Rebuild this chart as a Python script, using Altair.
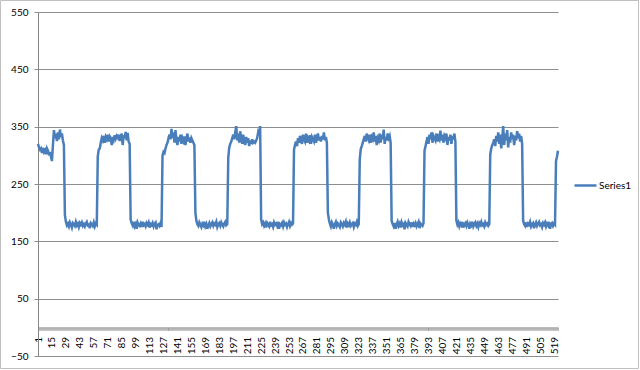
import altair as alt
import pandas as pd

# ---- data (one list per stretch of the series) ----
start_part = [320, 314, 310, 312, 304, 313, 306, 309, 302, 312, 308, 300, 306, 298, 290]
high_0 = [318, 344, 330, 338, 325, 340, 328, 345, 332, 338, 326, 318]
drop_1 = [196, 184]
low_1 = [178, 181, 176, 183, 179, 174, 182, 180, 177, 184, 178, 181, 175, 182, 179, 183,
         177, 180, 176, 181, 184, 178, 179, 173, 182, 180, 177, 183, 176, 181, 179]
rise_1 = [298, 310, 312, 322, 330]
high_1 = [326, 334, 322, 332, 328, 336, 324, 333, 330, 318, 332, 327, 335, 329, 334, 331,
          336, 325, 333, 338, 318, 335, 330, 341, 326, 339, 324, 320]
drop_2 = [188]
low_2 = [182, 178, 184, 176, 180, 172, 183, 179, 177, 181, 175, 184, 178, 180, 176, 182,
         179, 183, 174, 180, 178, 182, 176, 181, 183, 171, 179, 180, 177, 182, 175]
rise_2 = [300, 306, 304, 312, 318, 322, 330, 336, 328, 346]
high_2 = [330, 340, 322, 344, 326, 318, 332, 324, 336, 320, 330, 325, 333, 318, 328, 338,
          324, 331, 322, 330, 326, 322, 318]
drop_3 = [200, 186]
low_3 = [180, 177, 183, 179, 175, 181, 178, 184, 176, 180, 172, 178, 182, 176, 180, 183,
         177, 181, 179, 184, 175, 180, 182, 177, 183, 179, 176, 181, 184, 178, 180]
rise_3 = [296, 314, 320, 324]
high_3 = [330, 336, 328, 340, 351, 326, 338, 322, 342, 330, 320, 336, 324, 318, 332, 322,
          330, 316, 326, 320, 328, 322, 324, 322, 326, 330, 340, 335, 351]
drop_4 = [188]
low_4 = [180, 183, 177, 181, 174, 182, 179, 176, 184, 178, 180, 175, 183, 179, 181, 177,
         184, 172, 180, 178, 182, 176, 183, 179, 181, 175, 180, 184, 177, 182, 179, 181]
rise_4 = [310, 318]
high_4 = [324, 316, 330, 322, 334, 326, 320, 336, 328, 324, 338, 322, 330, 326, 335, 320,
          332, 328, 324, 336, 322, 330, 338, 326, 332, 324, 334, 328, 340, 326, 332, 322]
drop_5 = [200, 188]
low_5 = [181, 176, 183, 179, 172, 180, 184, 177, 181, 178, 175, 183, 180, 176, 182, 179,
         184, 174, 181, 178, 183, 177, 180, 182, 175, 181, 179, 184, 177, 180]
rise_5 = [293, 311, 316, 322]
high_5 = [328, 334, 324, 338, 330, 326, 336, 322, 332, 328, 340, 324, 334, 318, 330, 326,
          338, 322, 336, 328, 345, 320, 332, 326, 338, 330, 334, 322]
drop_6 = [186]
low_6 = [180, 176, 182, 172, 179, 184, 177, 181, 174, 183, 178, 180, 171, 182, 179, 176,
         184, 180, 177, 183, 175, 181, 178, 182, 176, 180, 184, 173, 181, 179, 177, 182]
rise_6 = [308, 316]
high_6 = [324, 332, 320, 336, 328, 340, 322, 334, 330, 326, 338, 324, 332, 328, 343, 326,
          336, 322, 334, 330, 338, 318, 332, 326, 336, 320, 334, 328, 338, 324]
drop_7 = [186]
low_7 = [179, 183, 176, 181, 178, 184, 174, 180, 182, 177, 183, 179, 172, 181, 178, 184,
         176, 180, 183, 177, 181, 175, 182, 179, 184, 178, 180, 176, 183, 179, 181, 177, 180]
rise_7 = [302, 312, 318]
high_7 = [322, 328, 316, 334, 324, 340, 320, 336, 312, 330, 351, 318, 338, 326, 344, 314,
          332, 322, 340, 328, 336, 318, 334, 326, 342, 330, 338, 324, 334, 320]
drop_8 = [186]
low_8 = [180, 177, 183, 175, 181, 179, 184, 176, 180, 182, 173, 179, 183, 177, 181, 184,
         178, 180, 175, 182, 179, 183, 176, 181, 178, 184, 172, 180, 182, 177, 181, 179]
end_part = [290, 298, 308]

series_name = "Series1"
y_ticks = [-50, 50, 150, 250, 350, 450, 550]

values = (start_part + high_0 + drop_1 + low_1 + rise_1 + high_1 + drop_2 + low_2 + rise_2
          + high_2 + drop_3 + low_3 + rise_3 + high_3 + drop_4 + low_4 + rise_4 + high_4
          + drop_5 + low_5 + rise_5 + high_5 + drop_6 + low_6 + rise_6 + high_6 + drop_7
          + low_7 + rise_7 + high_7 + drop_8 + low_8 + end_part)
n = len(values)
categories = list(range(1, n + 1))

df = pd.DataFrame({"idx": categories, "value": values, "series": [series_name] * n})

FONT = "Lato"
GRID = "#8e8e8e"
W, H = 520, 344

line = alt.Chart(df).mark_line(strokeWidth=2.5, color="#4a7ebb").encode(
    x=alt.X(
        "idx:Q",
        scale=alt.Scale(domain=[1, n], nice=False, zero=False),
        axis=alt.Axis(
            values=categories,
            labelExpr="(datum.value - 1) % 14 == 0 ? datum.label : ''",
            labelAngle=270,
            labelAlign="right",
            labelBaseline="middle",
            labelOverlap=False,
            labelPadding=6,
            labelFont=FONT,
            labelFontSize=10,
            labelColor="#000000",
            tickSize=3,
            tickWidth=0.6,
            tickColor="#8a8a8a",
            domainColor="#a0a0a0",
            domainWidth=1,
            grid=False,
            offset=-H * 50 / 600,
            title=None,
        ),
    ),
    y=alt.Y(
        "value:Q",
        scale=alt.Scale(domain=[-50, 550], nice=False, zero=False),
        axis=alt.Axis(
            values=y_ticks,
            grid=True,
            gridColor=GRID,
            tickSize=4,
            tickColor=GRID,
            domainColor="#868686",
            labelFont=FONT,
            labelFontSize=10,
            labelColor="#000000",
            labelPadding=6,
            title=None,
        ),
    ),
    color=alt.Color(
        "series:N",
        scale=alt.Scale(range=["#4a7ebb"]),
        legend=alt.Legend(
            title=None,
            orient="none",
            legendX=535,
            legendY=H / 2 - 11,
            symbolType="stroke",
            symbolSize=484,
            symbolStrokeWidth=2.5,
            labelOffset=1,
            labelFont=FONT,
            labelFontSize=10,
            labelColor="#000000",
            padding=0,
        ),
    ),
)

border = alt.Chart(pd.DataFrame({"a": [0]})).mark_rect(
    fill=None, stroke="#c0c0c0", strokeWidth=1
).encode(
    x=alt.value(-37.5), x2=alt.value(600.5), y=alt.value(-11.5), y2=alt.value(356.5)
)

chart = alt.layer(border, line).properties(
    width=W,
    height=H,
    autosize=alt.AutoSizeParams(type="none"),
    padding={"left": 38, "top": 12, "right": 82, "bottom": 14},
    background="white",
).configure_view(stroke=None)

chart.save("out.html", embed_options={"renderer": "svg", "actions": False})
